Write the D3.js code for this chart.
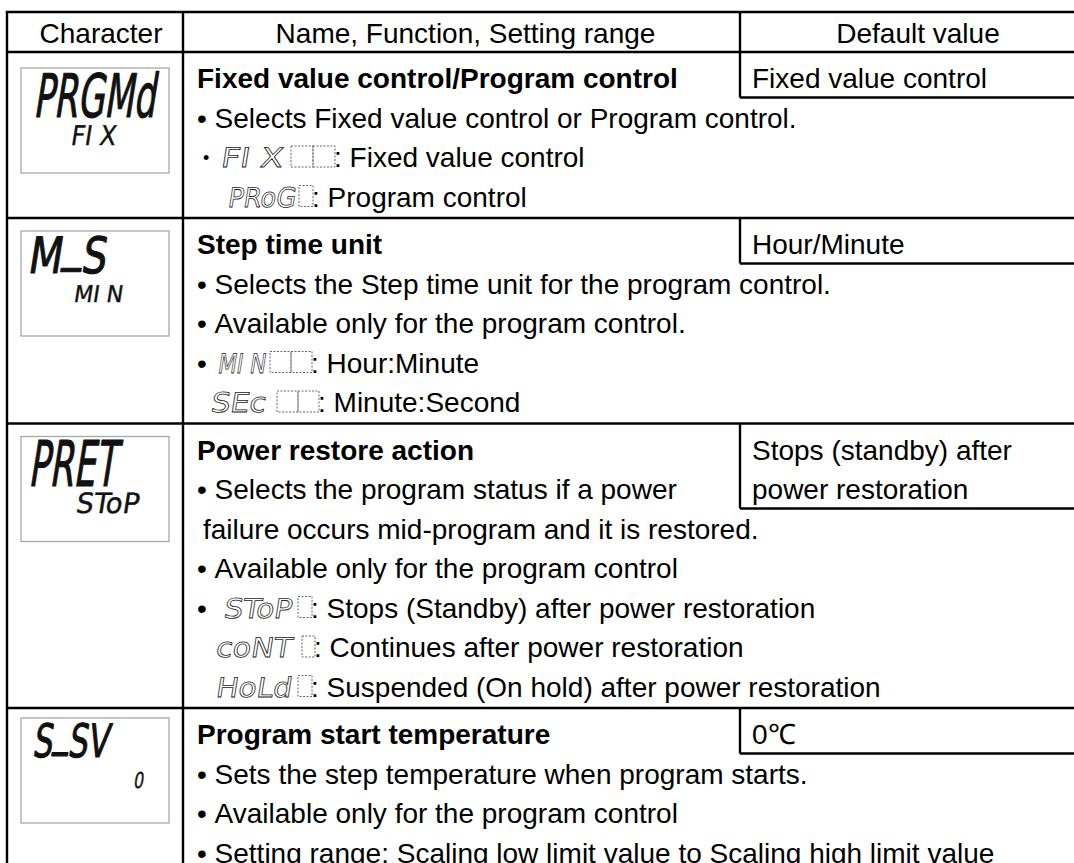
<!DOCTYPE html>
<html><head><meta charset="utf-8">
<script src="https://cdn.jsdelivr.net/npm/d3@7"></script>
<style>html,body{margin:0;padding:0;background:#fff;overflow:hidden}svg{display:block}</style>
</head><body>
<svg id="c" width="1074" height="863"></svg>
<script>
// ---------- data ----------
const headers = ["Character", "Name, Function, Setting range", "Default value"];
const displayMain = ["PRGMd", "M_S", "PRET", "S_SV"];
const displaySub = ["FI X", "MI N", "SToP", "0"];
const titles = ["Fixed value control/Program control", "Step time unit", "Power restore action", "Program start temperature"];
const defaults = [["Fixed value control"], ["Hour/Minute"], ["Stops (standby) after", "power restoration"], ["0\u2103"]];
const details = [
  [
    {bullet: "\u2022", text: "Selects Fixed value control or Program control."},
    {bullet: "\u00b7", lcd: "FI X", cells: 2, text: "Fixed value control"},
    {lcd: "PRoG", cells: 1, text: "Program control"}
  ],
  [
    {bullet: "\u2022", text: "Selects the Step time unit for the program control."},
    {bullet: "\u2022", text: "Available only for the program control."},
    {bullet: "\u2022", lcd: "MI N", cells: 2, text: "Hour:Minute"},
    {lcd: "SEc", cells: 2, text: "Minute:Second"}
  ],
  [
    {bullet: "\u2022", text: "Selects the program status if a power"},
    {text: "failure occurs mid-program and it is restored."},
    {bullet: "\u2022", text: "Available only for the program control"},
    {bullet: "\u2022", lcd: "SToP", cells: 1, text: "Stops (Standby) after power restoration"},
    {lcd: "coNT", cells: 1, text: "Continues after power restoration"},
    {lcd: "HoLd", cells: 1, text: "Suspended (On hold) after power restoration"}
  ],
  [
    {bullet: "\u2022", text: "Sets the step temperature when program starts."},
    {bullet: "\u2022", text: "Available only for the program control"},
    {bullet: "\u2022", text: "Setting range: Scaling low limit value to Scaling high limit value"}
  ]
];

// ---------- layout (styles / positions) ----------
const FONT = "'Liberation Sans', Arial, Helvetica, sans-serif";
const LCDF = "'DejaVu Sans', sans-serif";
const FS = 28;
const colEdges = [7, 183, 740, 1088];
const TOP = 12, HEAD_B = 52;
const LINE = 39.5, FIRST = 36, PAD = 8;
const SW = 2.4;
const boxOff = [16, 13, 13, 10];
const mainLayout = [
  {x: 33, w: 122, base: 49, fs: 60},
  {x: 27, w: 78, base: 42, fs: 50},
  {x: 28, w: 88, base: 49, fs: 63},
  {x: 32, w: 76, base: 39, fs: 46}
];
const subLayout = [
  {x: 70, w: 45, base: 77, fs: 27},
  {x: 73, w: 49, base: 71, fs: 23},
  {x: 75, w: 63, base: 76, fs: 28},
  {x: 133, w: 10, base: 70, fs: 22}
];
const lcdLayout = {
  "FI X": {gx: 220, gw: 62, bx: 291, cw: 22},
  "PRoG": {gx: 227, gw: 68, bx: 299, cw: 14},
  "MI N": {gx: 217, gw: 48, bx: 270, cw: 21},
  "SEc":  {gx: 210, gw: 55, bx: 277, cw: 21},
  "SToP": {gx: 223, gw: 68, bx: 298, cw: 14},
  "coNT": {gx: 215, gw: 76, bx: 302, cw: 13},
  "HoLd": {gx: 215, gw: 76, bx: 298, cw: 14}
};

const svg = d3.select("#c");

// column scale
const col = d3.scaleOrdinal().domain(["char", "name", "def", "end"]).range(colEdges);
// rows
const nLines = details.map(d => d.length + 1);
const rowH = nLines.map(n => PAD + LINE * n);
const rowTops = [HEAD_B, ...Array.from(d3.cumsum(rowH)).map(v => HEAD_B + v)];
const lineY = d3.scaleLinear().domain([0, 1]).range([FIRST, FIRST + LINE]);
const defH = defaults.map(d => 6 + LINE * d.length);

const lines = svg.append("g").attr("stroke", "#000").attr("stroke-width", SW).attr("fill", "none");
function hl(x1, x2, y) { lines.append("line").attr("x1", x1).attr("x2", x2).attr("y1", y).attr("y2", y); }
function vl(x, y1, y2) { lines.append("line").attr("x1", x).attr("x2", x).attr("y1", y1).attr("y2", y2); }

hl(col("char") - SW / 2, col("end"), TOP);
hl(col("char"), col("end"), HEAD_B);
rowTops.slice(1).forEach(y => hl(col("char"), col("end"), y));
vl(col("char"), TOP, 900);
vl(col("name"), TOP, 900);
vl(col("end"), TOP, 900);
vl(col("def"), TOP, HEAD_B);

// header text
const centers = [(colEdges[0] + colEdges[1]) / 2 + 6, (colEdges[1] + colEdges[2]) / 2 + 4, (colEdges[2] + colEdges[3]) / 2 + 4];
svg.selectAll("text.hdr").data(headers).join("text").attr("class", "hdr")
  .attr("x", (d, i) => centers[i]).attr("y", 42.5)
  .attr("text-anchor", "middle").attr("font-family", FONT).attr("font-size", FS).attr("fill", "#000")
  .text(d => d);

// segment-display style text; underscores sit on the baseline like a bottom segment
function lcdText(g, str, fs) {
  const t = g.append("text").attr("x", 0).attr("y", 0);
  const raise = Math.round(fs * 0.25);
  let up = false;
  Array.from(str).forEach(ch => {
    const ts = t.append("tspan").text(ch);
    if (ch === "_") { ts.attr("dy", -raise); up = true; }
    else if (up) { ts.attr("dy", raise); up = false; }
  });
  return t;
}

titles.forEach((title, r) => {
  const top = rowTops[r];
  // character display box
  const by = top + boxOff[r];
  svg.append("rect").attr("x", 21).attr("y", by).attr("width", 148).attr("height", 105)
    .attr("fill", "#fff").attr("stroke", "#a8a8a8").attr("stroke-width", 1.3);
  const m = mainLayout[r];
  const gm = svg.append("g").attr("transform", `translate(${m.x},${by + m.base}) skewX(-9)`);
  lcdText(gm, displayMain[r], m.fs)
    .attr("font-family", LCDF).attr("font-size", m.fs)
    .attr("textLength", m.w).attr("lengthAdjust", "spacingAndGlyphs")
    .attr("fill", "#111").attr("stroke", "#111").attr("stroke-width", 1.1).attr("stroke-linejoin", "round");
  const s = subLayout[r];
  svg.append("g").attr("transform", `translate(${s.x},${by + s.base}) skewX(-9)`)
    .append("text").attr("x", 0).attr("y", 0)
    .attr("font-family", LCDF).attr("font-size", s.fs)
    .attr("textLength", s.w).attr("lengthAdjust", "spacingAndGlyphs")
    .attr("fill", "#111").attr("stroke", "#111").attr("stroke-width", 0.4)
    .text(displaySub[r]);

  // title
  svg.append("text").attr("x", 197).attr("y", top + lineY(0))
    .attr("font-family", FONT).attr("font-size", FS).attr("font-weight", "bold").attr("fill", "#000")
    .text(title);

  // default value box
  const dh = defH[r];
  vl(col("def"), top, top + dh);
  hl(col("def"), col("end"), top + dh);
  defaults[r].forEach((t, k) => {
    svg.append("text").attr("x", col("def") + 12).attr("y", top + lineY(k))
      .attr("font-family", FONT).attr("font-size", FS).attr("fill", "#000").text(t);
  });

  // detail lines
  details[r].forEach((d, k) => {
    const y = top + lineY(k + 1);
    if (d.bullet === "\u2022") {
      svg.append("text").attr("x", 197).attr("y", y).attr("font-family", FONT).attr("font-size", FS).text("\u2022");
    } else if (d.bullet === "\u00b7") {
      svg.append("text").attr("x", 203).attr("y", y - 3).attr("font-family", FONT).attr("font-size", 18).text("\u2022");
    }
    if (d.lcd) {
      const L = lcdLayout[d.lcd];
      svg.append("g").attr("transform", `translate(${L.gx},${y}) skewX(-9)`)
        .append("text").attr("x", 0).attr("y", 0)
        .attr("font-family", LCDF).attr("font-size", 27)
        .attr("textLength", L.gw).attr("lengthAdjust", "spacingAndGlyphs")
        .attr("fill", "#fff").attr("stroke", "#222").attr("stroke-width", 0.75)
        .text(d.lcd);
      const cells = d3.range(d.cells);
      svg.append("g").selectAll("rect").data(cells).join("rect")
        .attr("x", c => L.bx + c * L.cw).attr("y", y - 21).attr("width", L.cw).attr("height", 21)
        .attr("fill", "none").attr("stroke", "#666").attr("stroke-width", 1).attr("stroke-dasharray", "2,1.5");
      const bend = L.bx + d.cells * L.cw;
      svg.append("text").attr("x", bend - 1).attr("y", y).attr("font-family", FONT).attr("font-size", FS)
        .text(": " + d.text);
    } else {
      const tx = d.bullet ? 214.6 : 203;
      svg.append("text").attr("x", tx).attr("y", y).attr("font-family", FONT).attr("font-size", FS).text(d.text);
    }
  });
});
</script>
</body></html>
